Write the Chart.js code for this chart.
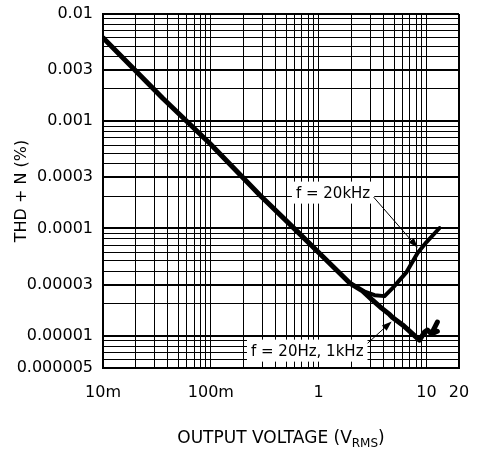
<!DOCTYPE html>
<html>
<head>
<meta charset="utf-8">
<script src="https://cdn.jsdelivr.net/npm/chart.js@4.4.1/dist/chart.umd.min.js"></script>
<style>
  html, body { margin: 0; padding: 0; background: #fff; }
  #wrap { width: 477px; height: 452px; }
</style>
</head>
<body>
<div id="wrap"><canvas id="thdChart"></canvas></div>
<script>
// THD+N (%) against output voltage, log-log, two test frequencies
const lowFreqVolts = [0.01, 0.036, 0.098, 0.186, 0.284, 0.667, 1.09, 1.94, 2.55, 3.1, 3.83, 4.54, 4.84, 6.0, 8.6, 9.58, 10.2, 11.1, 12.6, 11.1, 12.6];
const lowFreqThd = [0.006, 0.00163, 0.00062, 0.000318, 0.000205, 0.000089, 0.0000548, 0.000031, 0.0000262, 0.0000218, 0.0000181, 0.0000158, 0.0000148, 0.0000126, 0.0000091, 0.0000108, 0.0000113, 0.0000104, 0.0000134, 0.0000104, 0.000011];

const highFreqVolts = [2.55, 3.3, 4.08, 4.84, 6.53, 8.26, 10, 13.2];
const highFreqThd = [0.0000262, 0.0000239, 0.0000234, 0.0000278, 0.0000392, 0.000059, 0.0000747, 0.000101];

const xTickValues = [0.01, 0.1, 1, 10, 20];
const xTickLabels = ['10m', '100m', '1', '10', '20'];
const yTickValues = [0.01, 0.003, 0.001, 0.0003, 0.0001, 0.00003, 0.00001, 0.000005];
const yTickLabels = ['0.01', '0.003', '0.001', '0.0003', '0.0001', '0.00003', '0.00001', '0.000005'];

// callouts, anchored in data units
const calloutTexts = ['f = 20kHz', 'f = 20Hz, 1kHz'];
const calloutCenters = [[1.36, 0.000216], [0.783, 0.00000726]];
const arrowTails = [[3.23, 0.000196], [2.84, 0.0000085]];
const arrowTips = [[8.3, 0.000066], [4.75, 0.0000136]];

const FONT = "'DejaVu Sans', sans-serif";

// 1..9 per decade, rounded so that 0.1*3 compares equal to 0.3
function decadeLines(decades, firstMult) {
  const out = [];
  decades.forEach((d, i) => {
    for (let m = (i === 0 ? firstMult : 1); m <= 9; m++) out.push(+(m * d).toPrecision(6));
  });
  return out;
}
const xGrid = decadeLines([0.01, 0.1, 1], 1).concat([10, 20]);
const yGrid = decadeLines([0.000001, 0.00001, 0.0001, 0.001], 5).concat([0.01]);

function findTick(v, values) {
  return values.findIndex(t => Math.abs(t - v) / t < 1e-6);
}

const toPoints = (xs, ys) => xs.map((x, i) => ({ x: x, y: ys[i] }));

// keep the plot box fixed: no extra room for overhanging end labels
function noOverhang(s) {
  s.paddingTop = 0;
  s.paddingBottom = 0;
  s.paddingLeft = 0;
  s.paddingRight = 0;
}

const callouts = {
  id: 'callouts',
  afterDatasetsDraw(chart) {
    const { ctx, scales: { x, y } } = chart;
    ctx.save();
    ctx.font = '15px ' + FONT;
    ctx.textAlign = 'center';
    ctx.textBaseline = 'middle';
    calloutTexts.forEach((text, i) => {
      const cx = x.getPixelForValue(calloutCenters[i][0]);
      const cy = y.getPixelForValue(calloutCenters[i][1]);
      const w = ctx.measureText(text).width + 8;
      const h = 22;
      ctx.fillStyle = '#fff';
      ctx.fillRect(cx - w / 2, cy - h / 2, w, h);
      ctx.fillStyle = '#000';
      ctx.fillText(text, cx, cy + 1);

      // arrow from the label towards its curve
      const x0 = x.getPixelForValue(arrowTails[i][0]);
      const y0 = y.getPixelForValue(arrowTails[i][1]);
      const x1 = x.getPixelForValue(arrowTips[i][0]);
      const y1 = y.getPixelForValue(arrowTips[i][1]);
      const ang = Math.atan2(y1 - y0, x1 - x0);
      const headLen = 10, headW = 3.5;
      ctx.strokeStyle = '#000';
      ctx.lineWidth = 1;
      ctx.beginPath();
      ctx.moveTo(x0, y0);
      ctx.lineTo(x1 - Math.cos(ang) * headLen * 0.8, y1 - Math.sin(ang) * headLen * 0.8);
      ctx.stroke();
      ctx.beginPath();
      ctx.moveTo(x1, y1);
      ctx.lineTo(x1 - Math.cos(ang) * headLen - Math.sin(ang) * headW, y1 - Math.sin(ang) * headLen + Math.cos(ang) * headW);
      ctx.lineTo(x1 - Math.cos(ang) * headLen + Math.sin(ang) * headW, y1 - Math.sin(ang) * headLen - Math.cos(ang) * headW);
      ctx.closePath();
      ctx.fill();
    });
    ctx.restore();
  }
};

// x title needs a subscript, so it is drawn by hand
const xTitle = {
  id: 'xTitle',
  afterDraw(chart) {
    const { ctx, chartArea } = chart;
    const big = '17px ' + FONT, small = '12px ' + FONT;
    const parts = [['OUTPUT VOLTAGE (V', big, 0], ['RMS', small, 4], [')', big, 0]];
    ctx.save();
    ctx.fillStyle = '#000';
    ctx.textBaseline = 'alphabetic';
    ctx.textAlign = 'left';
    let total = 0;
    parts.forEach(p => { ctx.font = p[1]; total += ctx.measureText(p[0]).width; });
    let px = (chartArea.left + chartArea.right) / 2 - total / 2;
    const base = 443;
    parts.forEach(p => {
      ctx.font = p[1];
      ctx.fillText(p[0], px, base + p[2]);
      px += ctx.measureText(p[0]).width;
    });
    ctx.restore();
  }
};

new Chart(document.getElementById('thdChart'), {
  type: 'scatter',
  data: {
    datasets: [
      {
        label: 'f = 20Hz, 1kHz',
        data: toPoints(lowFreqVolts, lowFreqThd),
        showLine: true,
        borderColor: '#000',
        borderWidth: 5,
        borderJoinStyle: 'round',
        borderCapStyle: 'round',
        pointRadius: 0,
        tension: 0
      },
      {
        label: 'f = 20kHz',
        data: toPoints(highFreqVolts, highFreqThd),
        showLine: true,
        borderColor: '#000',
        borderWidth: 4,
        borderJoinStyle: 'round',
        borderCapStyle: 'round',
        pointRadius: 0,
        tension: 0
      }
    ]
  },
  options: {
    responsive: true,
    maintainAspectRatio: false,
    animation: false,
    layout: { padding: { top: 14, right: 18, left: 0, bottom: 0 } },
    plugins: {
      legend: { display: false },
      tooltip: { enabled: false }
    },
    scales: {
      x: {
        type: 'logarithmic',
        min: 0.01,
        max: 20,
        afterBuildTicks: s => { s.ticks = xGrid.map(v => ({ value: v })); },
        afterFit: s => { s.height = 84; noOverhang(s); },
        grid: {
          color: '#000',
          lineWidth: c => (c.tick && c.tick.value === 20 ? 2 : 1),
          drawTicks: false
        },
        border: { display: true, color: '#000', width: 2 },
        ticks: {
          autoSkip: false,
          maxRotation: 0,
          padding: 15,
          color: '#000',
          font: { family: FONT, size: 16 },
          callback: v => { const i = findTick(v, xTickValues); return i < 0 ? '' : xTickLabels[i]; }
        }
      },
      y: {
        type: 'logarithmic',
        min: 0.000005,
        max: 0.01,
        afterBuildTicks: s => { s.ticks = yGrid.map(v => ({ value: v })); },
        afterFit: s => { s.width = 103; noOverhang(s); },
        grid: {
          color: '#000',
          lineWidth: c => (c.tick && findTick(c.tick.value, yTickValues) >= 0 ? 2 : 1),
          drawTicks: false
        },
        border: { display: true, color: '#000', width: 2 },
        title: {
          display: true,
          text: 'THD + N (%)',
          color: '#000',
          font: { family: FONT, size: 16 },
          padding: { top: 12, bottom: 0 }
        },
        ticks: {
          autoSkip: false,
          padding: 10,
          color: '#000',
          font: { family: FONT, size: 16 },
          callback: v => { const i = findTick(v, yTickValues); return i < 0 ? '' : yTickLabels[i]; }
        }
      }
    }
  },
  plugins: [callouts, xTitle]
});
</script>
</body>
</html>
